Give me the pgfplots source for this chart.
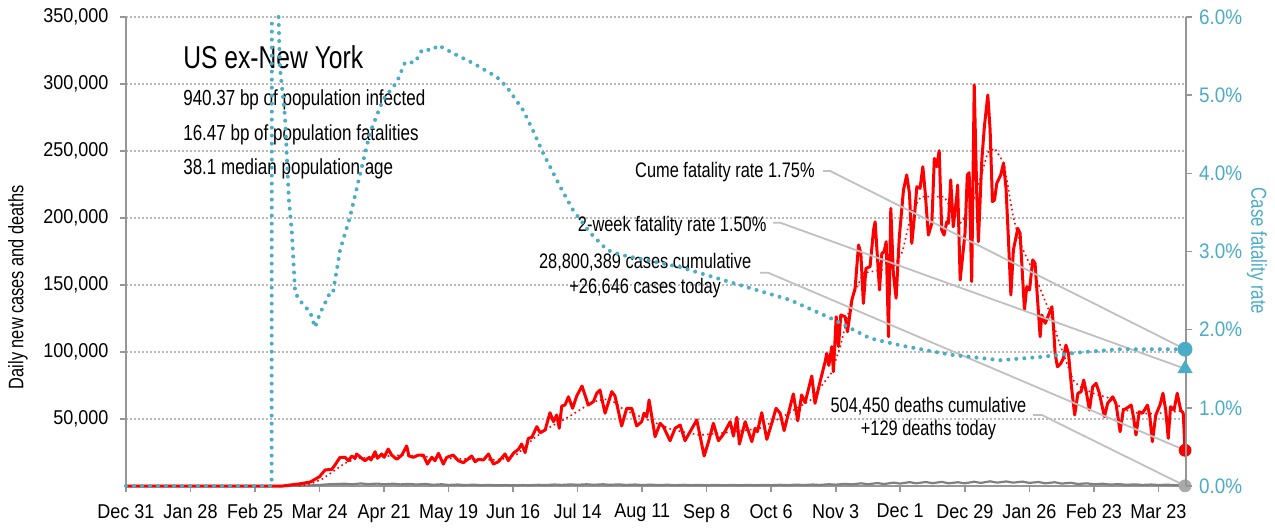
\documentclass[border=0pt]{standalone}
\usepackage{fontspec}
\setmainfont{Liberation Sans}[FakeStretch=0.78]
\newfontfamily\tickfont{Liberation Sans}[FakeStretch=0.9]
\usepackage{pgfplots}
\pgfplotsset{compat=1.18}
\definecolor{cfr}{RGB}{75,172,198}
\definecolor{axgray}{RGB}{150,150,150}
\definecolor{conn}{RGB}{192,192,192}
\definecolor{gridc}{RGB}{185,185,185}
\definecolor{dgray}{RGB}{128,128,128}
\definecolor{dotgray}{RGB}{170,170,170}
\begin{document}
\begin{tikzpicture}
\begin{axis}[
 at={(0,0)}, anchor=south west,
 scale only axis, width=530pt, height=234.5pt,
 xmin=0, xmax=460, ymin=0, ymax=350000,
 scaled y ticks=false, scaled x ticks=false,
 axis x line*=bottom, axis y line*=left,
 axis line style={axgray, line width=1pt},
 xtick={0,28,...,448},
 xticklabels={Dec 31,Jan 28,Feb 25,Mar 24,Apr 21,May 19,Jun 16,Jul 14,Aug 11,Sep 8,Oct 6,Nov 3,Dec 1,Dec 29,Jan 26,Feb 23,Mar 23},
 ytick={50000,100000,...,350000},
 yticklabels={{50,000},{100,000},{150,000},{200,000},{250,000},{300,000},{350,000}},
 ymajorgrids, grid style={gridc, line width=0.6pt, dash pattern=on 0.8pt off 1.2pt},
 tick align=outside, major tick length=3pt,
 tick style={axgray, line width=0.8pt},
 ticklabel style={font=\tickfont\fontsize{10}{11}\selectfont, text=black},
 xticklabel style={yshift=-2.5pt},
 yticklabel style={xshift=-2.3pt},
 clip=false,
 unbounded coords=jump,
]
% deaths
\addplot[dgray, line width=1.1pt, line join=round] coordinates {
(0,0) (65,0) (70,30) (75,150) (80,450) (84,800) (88,1300) (91,1500) (95,1700) (98,1300) (102,1900) (105,1400) (109,1800) (112,1300) (116,1700) (119,1200) (123,1600) (126,1100) (130,1500) (133,900) (137,1300) (140,800) (144,1100) (147,700) (151,1000) (154,600) (158,800) (161,500) (165,700) (168,500) (172,700) (175,600) (179,900) (182,700) (186,1100) (189,800) (193,1200) (196,900) (200,1300) (203,900) (207,1300) (210,900) (214,1200) (217,800) (221,1100) (224,700) (228,1000) (231,650) (235,950) (238,600) (242,900) (245,600) (249,800) (252,550) (256,850) (259,550) (263,800) (266,550) (270,800) (273,550) (277,850) (280,600) (284,900) (287,650) (291,1000) (294,700) (298,1100) (301,800) (305,1300) (308,1000) (312,1600) (315,1200) (319,2000) (322,1300) (326,2200) (329,1500) (333,2500) (336,1800) (340,2900) (343,2000) (347,3000) (350,2100) (354,3100) (357,2000) (361,2800) (364,2000) (368,3200) (371,2300) (375,3500) (378,2500) (382,3400) (385,2500) (389,3300) (392,2300) (396,3000) (399,2000) (403,2800) (406,1800) (410,2400) (413,1500) (417,2000) (420,1300) (424,1700) (427,1100) (431,1400) (434,900) (438,1200) (441,800) (445,1100) (448,700) (452,1000) (455,600) (458,800) (459.6,129)
};
% 7-day average
\addplot[red, line width=0.8pt, dash pattern=on 0.8pt off 1.6pt] coordinates {
(75,0) (80,1500) (85,5000) (90,11000) (95,17000) (100,20500) (110,22000) (120,23000) (130,22000) (140,20500) (150,20000) (160,19500) (165,20500) (170,24000) (177,35600) (184,44000) (191,50500) (200,60000) (205,64000) (210,65000) (216,57000) (227,49000) (237,42000) (249,38000) (264,40500) (275,43000) (285,51700) (297,64000) (306,84000) (310,104000) (315,140000) (320,159000) (327,161000) (333,163000) (337,175000) (341,205000) (345,216000) (355,216000) (362,196000) (366,205000) (370,225000) (374,249000) (377,252000) (381,241000) (385,201000) (388,181000) (394,159000) (401,129000) (405,107000) (411,79000) (414,74000) (420,69000) (426,66000) (433,57000) (440,54000) (447,54000) (452,55000) (458,56000)
};
% daily new cases
\addplot[red, line width=1.5pt, line join=round] coordinates {
(0,0) (68,0) (71,700) (75,1500) (80,3000) (84,7000) (86.4,12000) (89.3,12400) (90.7,15700) (92.9,21400) (95.1,21400) (96.5,18900) (98,22400) (99.4,20700) (100.1,23900) (102.3,20700) (103.7,18900) (105.6,21400) (106.3,19400) (108.1,25600) (109.1,20700) (111,23900) (112,21400) (113.8,27600) (115.3,23100) (117.5,19900) (119.7,23100) (121.8,29900) (122.8,22400) (124.7,21400) (126.9,23100) (129,23100) (130.8,16400) (132.7,21400) (134.1,18900) (135.6,24400) (137.7,16400) (139.2,21400) (142,23100) (144.2,18900) (146.4,17400) (147.9,19400) (150,22400) (151.5,18100) (152.9,19900) (155.1,19400) (157.3,23900) (159.4,16400) (161.6,18100) (164.5,23900) (165.9,18900) (168.1,24400) (170.3,27400) (171.7,31300) (173.2,24900) (174.6,35600) (176.1,36300) (178.3,44300) (179.7,39800) (181.9,41800) (184,54700) (185.5,48000) (186.9,53000) (188,43100) (189.1,59700) (190.5,60400) (192,66600) (193.8,58000) (195.6,67200) (197.9,74600) (200.6,60400) (202.8,62900) (204.3,69200) (205.7,71600) (207.9,54300) (210.8,70400) (212.2,67200) (215.1,44800) (217.3,58000) (219.5,58000) (221.6,44800) (223.8,48000) (224.8,54300) (226,51700) (227,64200) (229.6,36800) (231.8,46800) (233.2,44300) (236.1,33800) (238.3,43100) (240.5,45500) (242.6,33800) (244.8,40500) (247.7,49300) (250.9,22400) (252.8,33100) (254.9,46800) (257.1,33800) (259.3,38800) (262.2,48000) (263.6,37300) (265.1,51300) (266.2,31300) (268.7,48000) (271.6,33100) (273,43100) (274,40500) (275.9,54700) (278.1,34800) (279.8,44300) (282.1,58000) (283.9,54300) (285.6,41300) (288.2,59200) (289.6,68700) (291.5,48700) (293.2,67900) (294.7,62200) (297.6,82100) (299,61700) (301.2,77800) (303.4,92800) (304.1,99000) (305,90000) (306.3,104000) (307,85300) (308.2,126300) (309.2,104000) (310.2,127600) (312.1,126300) (313.1,115100) (315,138800) (316.4,147500) (317.9,179900) (318.9,173600) (320,136300) (321.1,162400) (322.9,163700) (324.4,191000) (325.1,197200) (327,146300) (328,173600) (329,174900) (329.9,182300) (330.9,111400) (331.9,207200) (333,158700) (334.2,140100) (335.6,186000) (337.4,220900) (338.8,232100) (340,218400) (341,181100) (342,198500) (343.2,223400) (344.6,222200) (345.8,238300) (346.8,219700) (348.2,187300) (349.7,196000) (350.8,244500) (351.8,238300) (352.9,250200) (354,191000) (355,187300) (356.2,197200) (356.9,196000) (357.9,228400) (359,193500) (360.5,215900) (360.9,224600) (362,153700) (364.1,188600) (365.1,232100) (365.9,233800) (367,152500) (368.1,299300) (369.2,218400) (369.9,182300) (371.4,243300) (372.5,268100) (374,291800) (375,265700) (376,212200) (376.9,213400) (377.9,225900) (379.6,232100) (380.8,240800) (381.9,222200) (382.9,186000) (384,142500) (385.1,176100) (387,192300) (388,188600) (389.9,131300) (390.9,148700) (392.1,146300) (393.5,168700) (394.5,166200) (396.7,111400) (397.4,127600) (398.9,121400) (401.8,133800) (402.5,119000) (403.2,99000) (404.2,89000) (405.7,91600) (406.8,95300) (407.9,105200) (409,99000) (410.3,74100) (411.7,53000) (413.1,69200) (414.5,70400) (415.6,79100) (416.7,70400) (418.1,56700) (419.5,74100) (421,76600) (422.4,69200) (424.6,51700) (426,61700) (428.2,66600) (429.6,61700) (431.4,40500) (432.8,56700) (434.2,58000) (436.2,60400) (437.2,51700) (438.3,38100) (439.7,55400) (441.1,54300) (443.3,60400) (444.3,51700) (445.4,33100) (446.9,53000) (448.7,60400) (450,69200) (451.2,56700) (452.3,35600) (453.3,59200) (454.8,56700) (456.2,69200) (457.7,56700) (458.8,54300) (459.6,26646)
};
% connector lines
\draw[conn, line width=0.9pt] (axis cs:302.5,235100) -- (axis cs:305.6,235100) -- (axis cs:459.6,102083);
\draw[conn, line width=0.9pt] (axis cs:280.8,196500) -- (axis cs:283.9,196500) -- (axis cs:459.6,87500);
\draw[conn, line width=0.9pt] (axis cs:275.2,159200) -- (axis cs:278.6,159200) -- (axis cs:459.6,26646);
\draw[conn, line width=0.9pt] (axis cs:393.7,53000) -- (axis cs:397.4,53000) -- (axis cs:459.6,129);
% end markers
\addplot[only marks, mark=*, mark size=3pt, red] coordinates {(459.6,26646)};
\addplot[only marks, mark=*, mark size=3pt, dotgray] coordinates {(459.6,129)};
% texts
\node[anchor=base west, inner sep=0, font=\fontsize{15.8}{18}\selectfont] at (axis cs:24.7,311700) {US ex-New York};
\node[anchor=base west, inner sep=0, font=\fontsize{10.9}{12}\selectfont] at (axis cs:24.7,284300) {940.37 bp of population infected};
\node[anchor=base west, inner sep=0, font=\fontsize{10.9}{12}\selectfont] at (axis cs:24.7,258200) {16.47 bp of population fatalities};
\node[anchor=base west, inner sep=0, font=\fontsize{10.9}{12}\selectfont] at (axis cs:24.7,232100) {38.1 median population age};
\node[anchor=base east, inner sep=0, font=\fontsize{10.5}{12}\selectfont] at (axis cs:299.0,230400) {Cume fatality rate 1.75\%};
\node[anchor=base east, inner sep=0, font=\fontsize{10.5}{12}\selectfont] at (axis cs:278.1,189800) {2-week fatality rate 1.50\%};
\node[anchor=north east, inner sep=0, align=center, font=\fontsize{10.5}{12.5}\selectfont] at (axis cs:271.5,173900) {28,800,389 cases cumulative\\+26,646 cases today};
\node[anchor=north east, inner sep=0, align=center, font=\fontsize{10.5}{11.7}\selectfont] at (axis cs:390.9,66600) {504,450 deaths cumulative\\+129 deaths today};
\node[rotate=90, inner sep=0, font=\fontsize{10.5}{12}\selectfont] at (rel axis cs:-0.102,0.424) {Daily new cases and deaths};
\end{axis}
\begin{axis}[
 at={(0,0)}, anchor=south west,
 scale only axis, width=530pt, height=234.5pt,
 xmin=0, xmax=460, ymin=0, ymax=6,
 axis x line=none, axis y line*=right,
 axis line style={axgray, line width=1pt},
 ytick={0,1,...,6},
 yticklabels={0.0\%,1.0\%,2.0\%,3.0\%,4.0\%,5.0\%,6.0\%},
 tick align=outside, major tick length=3pt,
 tick style={axgray, line width=0.8pt},
 yticklabel style={font=\tickfont\fontsize{10.5}{11}\selectfont, text=cfr},
 clip=false,
 unbounded coords=jump,
]
\addplot[cfr, line width=2pt, line cap=round, dash pattern=on 0pt off 4pt] coordinates {
(0,0) (63.2,0) (63.3,6.0) (64,nan) (66.2,6.0) (66.8,5.36) (69,4.72) (70.7,3.66) (72,3.24) (73.4,2.47) (76.8,2.32) (79.9,2.23) (82,2.03) (84.2,2.21) (88.5,2.47) (89.8,2.47) (92.9,3.02) (97.2,3.44) (100.7,3.88) (105.9,4.52) (111.5,4.94) (117.6,5.17) (121.1,5.42) (125.4,5.42) (128.5,5.58) (133.2,5.58) (135.4,5.64) (145,5.49) (150.6,5.41) (161,5.23) (165.4,5.10) (172.3,4.81) (176.6,4.55) (181,4.26) (188.4,3.83) (194,3.53) (201.4,3.24) (208.8,3.02) (214.4,2.96) (240.5,2.80) (266.5,2.57) (288.2,2.38) (305.6,2.15) (322.9,1.89) (335.9,1.80) (357.6,1.68) (379.3,1.61) (396.7,1.65) (414.1,1.71) (431.4,1.75) (459.6,1.75)
};
\addplot[only marks, mark=*, mark size=3.5pt, cfr] coordinates {(459.6,1.75)};
\addplot[only marks, mark=triangle*, mark size=4pt, cfr] coordinates {(459.6,1.5)};
\node[rotate=-90, inner sep=0, text=cfr, font=\fontsize{10.8}{12}\selectfont] at (rel axis cs:1.067,0.501) {Case fatality rate};
\end{axis}
\pgfresetboundingbox
\path[use as bounding box] (-63pt,-20.5pt) rectangle (574.5pt,243pt);
\end{tikzpicture}
\end{document}
